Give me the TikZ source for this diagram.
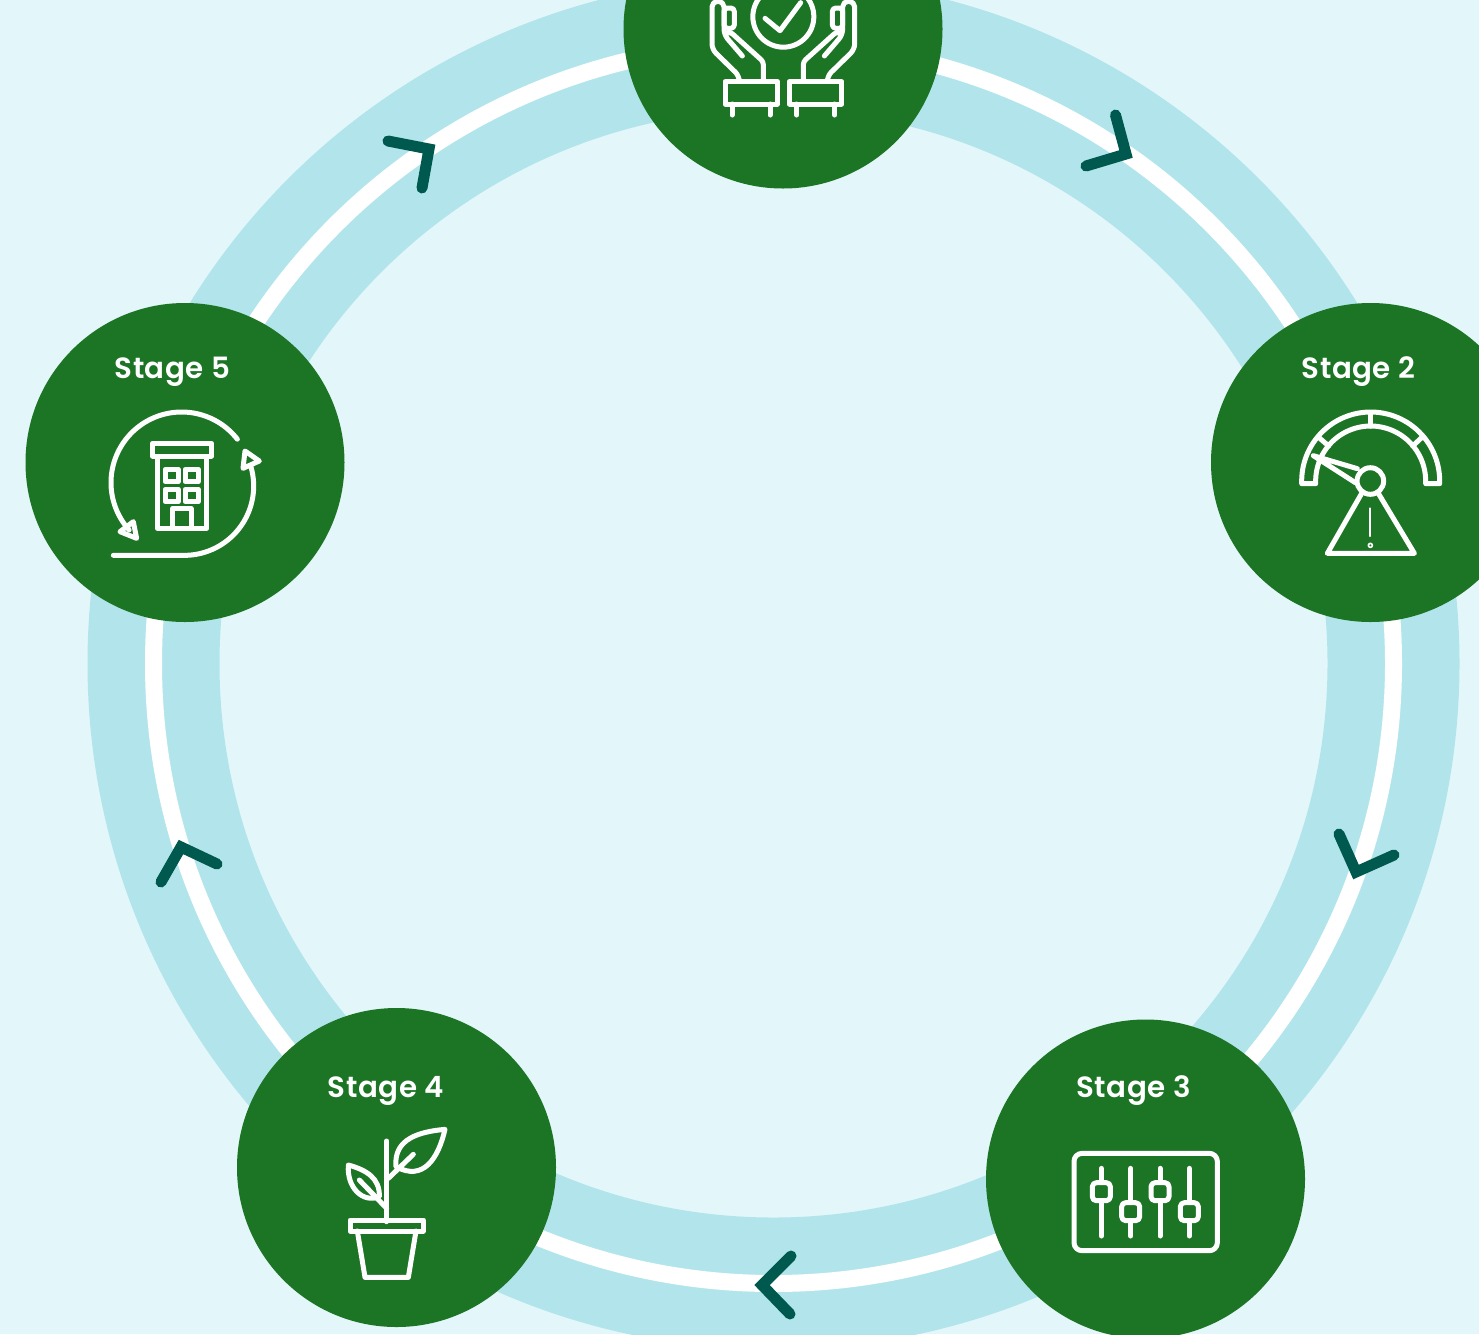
\documentclass[tikz,border=0pt]{standalone}
\usepackage{fontspec}
\setmainfont{Poppins}
\newfontfamily\labfont[UprightFont=* SemiBold,LetterSpace=2]{Poppins}
\definecolor{bgc}{HTML}{E3F6F9}
\definecolor{ringc}{HTML}{B2E5EB}
\definecolor{greenc}{HTML}{1C7425}
\definecolor{chevc}{HTML}{00594F}
\tikzset{
  stage/.style={circle,fill=greenc,minimum size=319pt,inner sep=0pt},
  label/.style={text=white,font=\labfont\fontsize{29.3}{32}\selectfont,inner sep=0pt,anchor=base},
  chev/.style={draw=chevc,line width=11pt,line cap=round,line join=miter},
  icon/.style={draw=white,line width=5pt,line cap=round,line join=round},
  iconscope/.style={x=0.33333pt,y=-0.33333pt},
}
\begin{document}
\begin{tikzpicture}[x=1pt,y=-1pt]
\useasboundingbox (0,0) rectangle (1479,1334);
\fill[bgc] (0,0) rectangle (1479,1334);
\coordinate (ctr) at (773.5,663.5);
\draw[ringc,line width=132pt] (ctr) circle[radius=620pt];
\draw[white,line width=17pt] (ctr) circle[radius=620pt];

\node[stage] (s1) at (783,29) {};
\node[stage] (s2) at (1370.5,462.5) {};
\node[stage] (s3) at (1145.5,1179) {};
\node[stage] (s4) at (396.5,1167.5) {};
\node[stage] (s5) at (185,462.5) {};
\node[label] (l2) at (1358.5,378) {Stage 2};
\node[label] (l3) at (1133.5,1097) {Stage 3};
\node[label] (l4) at (386,1097) {Stage 4};
\node[label] (l5) at (172.5,378) {Stage 5};

% chevrons
\draw[chev] (1115.5,115) -- (1126,154) -- (1086,166);
\draw[chev] (1339,834) -- (1356,872) -- (1394,855);
\draw[chev] (791,1256) -- (762,1285) -- (790,1314);
\draw[chev] (161,882) -- (181,847) -- (217,864);
\draw[chev] (388,141) -- (429,149) -- (422,188);

% hands icon
\begin{scope}[shift={(680,0)},iconscope]
  \draw[icon] (310,50) circle[radius=30.5pt];
  \draw[icon] (255,55) -- (300,92) -- (362,8);
  \foreach \m/\o in {1/0,-1/620}{
    \begin{scope}[xshift=\o*0.33333pt,x=\m*0.33333pt]
      \draw[icon,rounded corners=5.5pt] (178,240) -- (178,228) -- (96,148) -- (96,4) -- (132,4) -- (132,104) -- (187,168);
      \draw[icon,rounded corners=3.5pt] (132,85) -- (132,24) -- (163,24) -- (163,85) -- cycle;
      \draw[icon,rounded corners=3pt] (138,102) -- (150,95) -- (250,185) -- (250,240);
      \draw[icon] (135,245) rectangle (292,312);
      \draw[icon] (156,312) -- (156,345);
      \draw[icon] (270,312) -- (270,345);
    \end{scope}
  }
\end{scope}

% gauge icon
\begin{scope}[shift={(1280,400)},iconscope]
  \draw[icon] (65,251) -- plot[domain=180:360,samples=60] ({272+207*cos(\x)},{243+207*sin(\x)}) -- (479,251) -- (437,251)
     -- plot[domain=360:180,samples=60] ({272+165*cos(\x)},{243+165*sin(\x)}) -- (107,251) -- cycle;
  \draw[icon] (272,38) -- (272,78);
  \draw[icon] (116,112) -- (146,138);
  \draw[icon] (428,110) -- (398,138);
  \draw[icon] (271,243) circle[radius=13.3pt];
  \draw[icon] (232,206) -- (100,167) -- (226,248);
  \draw[icon] (245,280) -- (142,460) -- (403,460) -- (295,280);
  \draw[icon,line width=2.2pt] (271,325) -- (271,408);
  \draw[icon,line width=1.7pt] (271,436) circle[radius=2pt];
\end{scope}

% sliders icon
\begin{scope}[shift={(1060,1140)},iconscope]
  \draw[icon,rounded corners=8pt] (42,40) rectangle (472,332);
  \foreach \x/\y in {124/155,212/215,300/155,388/215}{
    \draw[icon] (\x,85) -- (\x,288);
    \draw[icon,fill=greenc,rounded corners=4pt] (\x-27,\y-27) rectangle (\x+27,\y+27);
  }
\end{scope}

% plant icon
\begin{scope}[shift={(330,1115)},iconscope]
  \draw[icon] (170,78) -- (170,320);
  \draw[icon] (60,315) rectangle (280,348);
  \draw[icon] (82,348) -- (105,487) -- (235,487) -- (258,348);
  \draw[icon] (175,190) -- (250,118);
  \draw[icon] (345,43) .. controls (270,50) and (190,70) .. (198,155)
     .. controls (280,200) and (325,130) .. cycle;
  \draw[icon] (170,280) -- (88,195);
  \draw[icon] (55,150) .. controls (50,220) and (100,265) .. (148,245)
     .. controls (150,190) and (110,165) .. cycle;
\end{scope}

% building icon
\begin{scope}[shift={(95,400)},iconscope]
  \draw[icon] plot[domain=-38:-222,samples=80] ({260+212*cos(\x)},{248+212*sin(\x)});
  \draw[icon] (75,395) -- (115,365) -- (125,415) -- cycle;
  \draw[icon] (55,466) -- (268,466) -- plot[domain=90:-16,samples=60] ({268+208*cos(\x)},{258+208*sin(\x)});
  \draw[icon] (450,153) -- (493,183) -- (444,205) -- cycle;
  \draw[icon] (172,130) rectangle (350,168);
  \draw[icon] (188,168) rectangle (335,385);
  \draw[icon] (210,208) rectangle (250,245);
  \draw[icon] (270,208) rectangle (310,245);
  \draw[icon] (210,268) rectangle (250,305);
  \draw[icon] (270,268) rectangle (310,305);
  \draw[icon] (233,385) -- (233,325) -- (288,325) -- (288,385);
\end{scope}
\end{tikzpicture}
\end{document}
